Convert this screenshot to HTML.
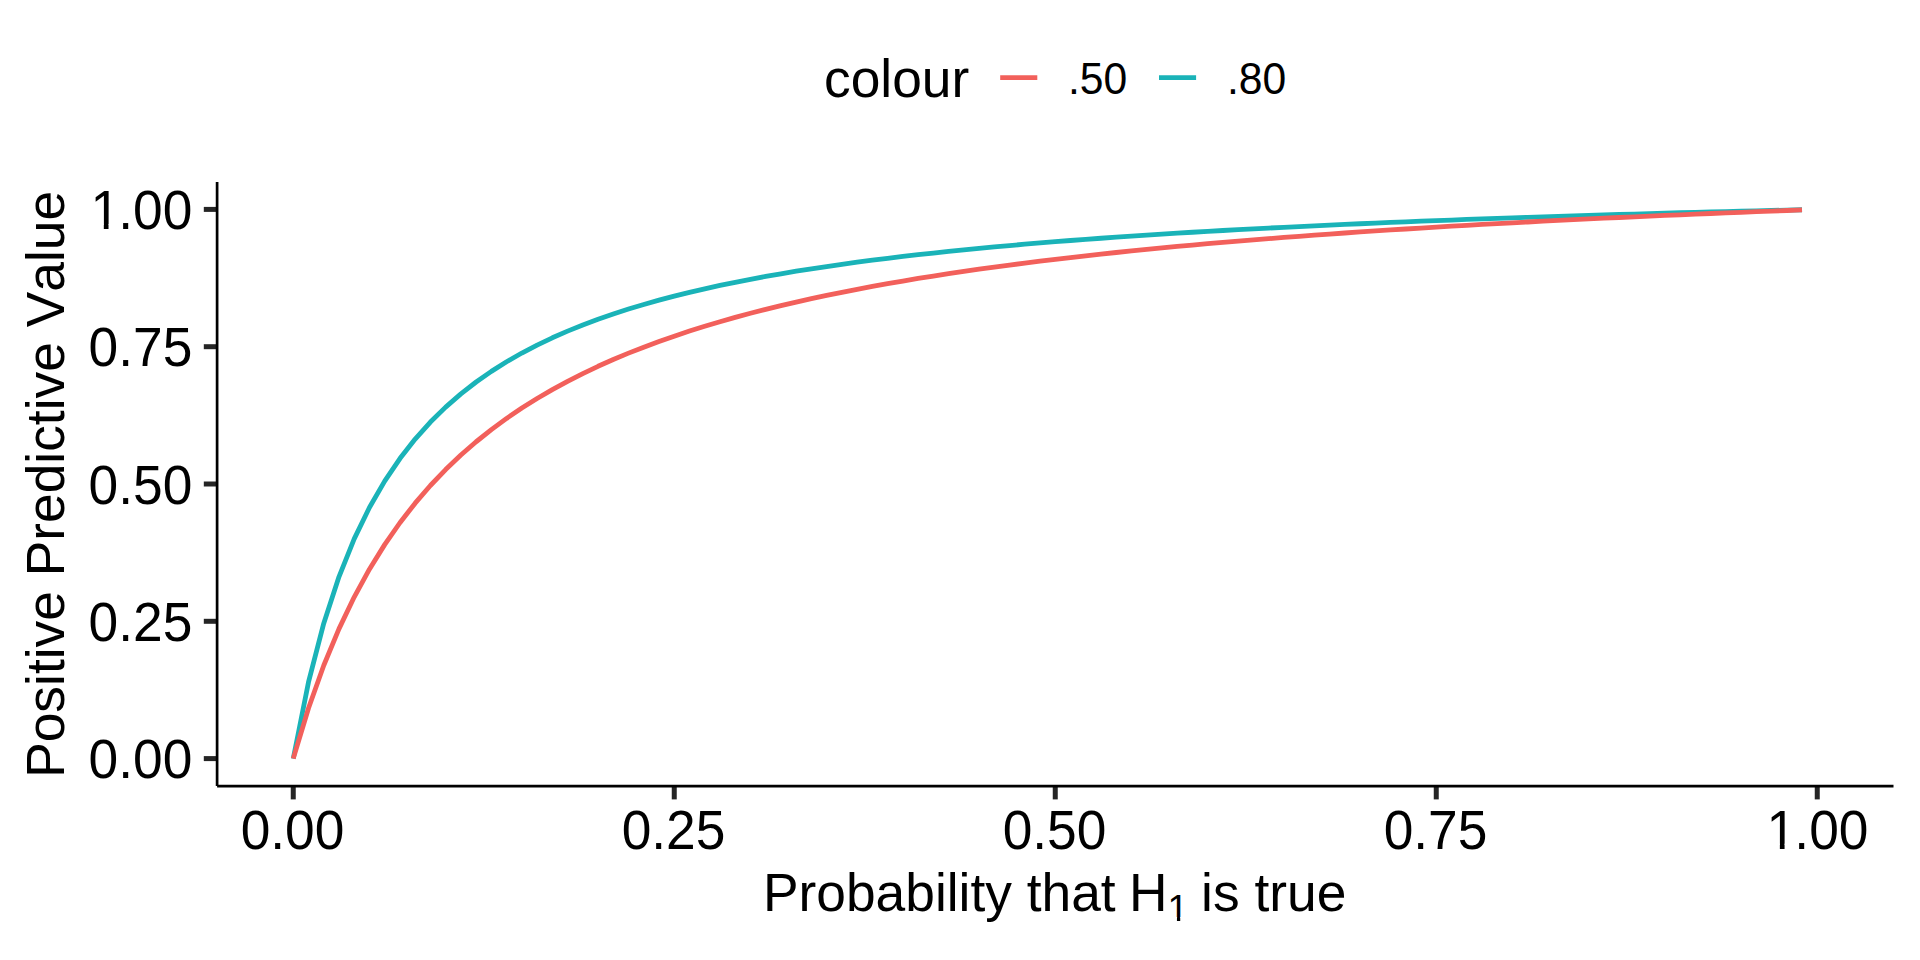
<!DOCTYPE html>
<html><head><meta charset="utf-8"><title>Positive Predictive Value</title>
<style>
html,body{margin:0;padding:0;background:#fff;}
body{width:1920px;height:960px;overflow:hidden;}
svg{display:block;}
text{font-family:"Liberation Sans",Arial,Helvetica,sans-serif;fill:#000;font-kerning:none;font-feature-settings:"kern" 0,"liga" 0;}
</style></head><body>
<svg width="1920" height="960" viewBox="0 0 1920 960">
<defs>
<clipPath id="c0" clipPathUnits="userSpaceOnUse"><path clip-rule="evenodd" d="M-3000,-3000H5000V5000H-3000Z M92.96,-4.88h10.85v7.88h-10.85Z M108.52,-4.88h10.43v7.88h-10.43Z"/></clipPath>
<clipPath id="c1" clipPathUnits="userSpaceOnUse"><path clip-rule="evenodd" d="M-3000,-3000H5000V5000H-3000Z M1769.01,-4.88h10.85v7.88h-10.85Z M1784.57,-4.88h10.43v7.88h-10.43Z"/></clipPath>
<clipPath id="c2" clipPathUnits="userSpaceOnUse"><path clip-rule="evenodd" d="M-3000,-3000H5000V5000H-3000Z M1168.90,6.11h8.04v6.69h-8.04Z M1180.24,6.11h7.75v6.69h-7.75Z"/></clipPath>
</defs>
<rect width="1920" height="960" fill="#fff"/>
<polyline points="293.25,758.60 308.49,682.19 323.73,623.41 338.97,576.80 354.21,538.92 369.45,507.54 384.69,481.11 399.93,458.55 415.17,439.07 430.41,422.07 445.65,407.11 460.89,393.85 476.13,382.01 491.37,371.37 506.61,361.76 521.85,353.04 537.09,345.08 552.33,337.80 567.57,331.11 582.81,324.95 598.05,319.24 613.29,313.95 628.53,309.02 643.77,304.43 659.01,300.14 674.25,296.12 689.49,292.34 704.73,288.79 719.97,285.44 735.21,282.28 750.45,279.30 765.69,276.47 780.93,273.79 796.17,271.24 811.41,268.82 826.65,266.52 841.89,264.32 857.13,262.22 872.37,260.22 887.61,258.31 902.85,256.47 918.09,254.72 933.33,253.04 948.57,251.42 963.81,249.87 979.05,248.38 994.29,246.94 1009.53,245.56 1024.77,244.23 1040.01,242.94 1055.25,241.71 1070.49,240.51 1085.73,239.36 1100.97,238.24 1116.21,237.16 1131.45,236.12 1146.69,235.11 1161.93,234.13 1177.17,233.18 1192.41,232.26 1207.65,231.37 1222.89,230.50 1238.13,229.66 1253.37,228.85 1268.61,228.05 1283.85,227.28 1299.09,226.53 1314.33,225.80 1329.57,225.09 1344.81,224.40 1360.05,223.73 1375.29,223.07 1390.53,222.43 1405.77,221.81 1421.01,221.20 1436.25,220.61 1451.49,220.03 1466.73,219.47 1481.97,218.91 1497.21,218.38 1512.45,217.85 1527.69,217.34 1542.93,216.83 1558.17,216.34 1573.41,215.86 1588.65,215.39 1603.89,214.93 1619.13,214.48 1634.37,214.04 1649.61,213.61 1664.85,213.19 1680.09,212.77 1695.33,212.37 1710.57,211.97 1725.81,211.58 1741.05,211.20 1756.29,210.83 1771.53,210.46 1786.77,210.10 1802.01,209.75" fill="none" stroke="#1AB3B8" stroke-width="4.8" stroke-linejoin="round" stroke-linecap="butt"/>
<polyline points="293.25,758.60 308.49,708.21 323.73,665.52 338.97,628.87 354.21,597.07 369.45,569.22 384.69,544.63 399.93,522.75 415.17,503.16 430.41,485.52 445.65,469.55 460.89,455.02 476.13,441.75 491.37,429.59 506.61,418.39 521.85,408.05 537.09,398.47 552.33,389.57 567.57,381.29 582.81,373.55 598.05,366.31 613.29,359.53 628.53,353.15 643.77,347.15 659.01,341.49 674.25,336.14 689.49,331.08 704.73,326.29 719.97,321.74 735.21,317.41 750.45,313.30 765.69,309.39 780.93,305.65 796.17,302.09 811.41,298.68 826.65,295.42 841.89,292.30 857.13,289.31 872.37,286.44 887.61,283.68 902.85,281.03 918.09,278.49 933.33,276.04 948.57,273.68 963.81,271.41 979.05,269.21 994.29,267.10 1009.53,265.06 1024.77,263.08 1040.01,261.17 1055.25,259.33 1070.49,257.54 1085.73,255.81 1100.97,254.14 1116.21,252.51 1131.45,250.94 1146.69,249.41 1161.93,247.92 1177.17,246.48 1192.41,245.08 1207.65,243.73 1222.89,242.40 1238.13,241.12 1253.37,239.87 1268.61,238.65 1283.85,237.46 1299.09,236.31 1314.33,235.18 1329.57,234.08 1344.81,233.01 1360.05,231.97 1375.29,230.95 1390.53,229.96 1405.77,228.99 1421.01,228.04 1436.25,227.12 1451.49,226.21 1466.73,225.33 1481.97,224.47 1497.21,223.62 1512.45,222.80 1527.69,221.99 1542.93,221.20 1558.17,220.42 1573.41,219.67 1588.65,218.92 1603.89,218.20 1619.13,217.49 1634.37,216.79 1649.61,216.10 1664.85,215.44 1680.09,214.78 1695.33,214.13 1710.57,213.50 1725.81,212.88 1741.05,212.28 1756.29,211.68 1771.53,211.09 1786.77,210.52 1802.01,209.95" fill="none" stroke="#F2605B" stroke-width="4.8" stroke-linejoin="round" stroke-linecap="butt"/>
<line x1="203.80" y1="758.60" x2="217.10" y2="758.60" stroke="#252525" stroke-width="5.0"/>
<line x1="293.25" y1="786.10" x2="293.25" y2="799.40" stroke="#252525" stroke-width="5.0"/>
<line x1="203.80" y1="621.30" x2="217.10" y2="621.30" stroke="#252525" stroke-width="5.0"/>
<line x1="674.25" y1="786.10" x2="674.25" y2="799.40" stroke="#252525" stroke-width="5.0"/>
<line x1="203.80" y1="484.00" x2="217.10" y2="484.00" stroke="#252525" stroke-width="5.0"/>
<line x1="1055.25" y1="786.10" x2="1055.25" y2="799.40" stroke="#252525" stroke-width="5.0"/>
<line x1="203.80" y1="346.70" x2="217.10" y2="346.70" stroke="#252525" stroke-width="5.0"/>
<line x1="1436.25" y1="786.10" x2="1436.25" y2="799.40" stroke="#252525" stroke-width="5.0"/>
<line x1="203.80" y1="209.40" x2="217.10" y2="209.40" stroke="#252525" stroke-width="5.0"/>
<line x1="1817.25" y1="786.10" x2="1817.25" y2="799.40" stroke="#252525" stroke-width="5.0"/>
<line x1="217.10" y1="181.94" x2="217.10" y2="786.10" stroke="#000" stroke-width="2.7"/>
<line x1="217.10" y1="786.10" x2="1893.50" y2="786.10" stroke="#000" stroke-width="2.7"/>
<text x="88.60" y="0" font-size="53.333" transform="translate(0,778.20) scale(1,1.035)">0.00</text>
<text x="240.65" y="0" font-size="53.333" transform="translate(0,848.80) scale(1,1.035)">0.00</text>
<text x="88.60" y="0" font-size="53.333" transform="translate(0,640.90) scale(1,1.035)">0.25</text>
<text x="621.65" y="0" font-size="53.333" transform="translate(0,848.80) scale(1,1.035)">0.25</text>
<text x="88.60" y="0" font-size="53.333" transform="translate(0,503.60) scale(1,1.035)">0.50</text>
<text x="1002.65" y="0" font-size="53.333" transform="translate(0,848.80) scale(1,1.035)">0.50</text>
<text x="88.60" y="0" font-size="53.333" transform="translate(0,366.30) scale(1,1.035)">0.75</text>
<text x="1383.65" y="0" font-size="53.333" transform="translate(0,848.80) scale(1,1.035)">0.75</text>
<text x="88.60" y="0" font-size="53.333" transform="translate(0,229.00) scale(1,1.035)" clip-path="url(#c0)"><tspan dx="1.80">1</tspan><tspan dx="-1.80">.00</tspan></text>
<text x="1764.65" y="0" font-size="53.333" transform="translate(0,848.80) scale(1,1.035)" clip-path="url(#c1)"><tspan dx="1.80">1</tspan><tspan dx="-1.80">.00</tspan></text>
<text x="0" y="0" font-size="53.333" text-anchor="middle" transform="translate(64.2,484.4) rotate(-90)">Positive Predictive Value</text>
<text x="762.93" y="0" font-size="53.333" transform="translate(0,910.9)" clip-path="url(#c2)">Probability that <tspan dx="-1.5">H</tspan><tspan font-size="37.333" dy="9.8" transform="">1</tspan><tspan dx="-2.0" dy="-9.8"> is true</tspan></text>
<text x="824.0" y="97.1" font-size="53.333">colour</text>
<line x1="1000.2" y1="77.7" x2="1037.3" y2="77.7" stroke="#F2605B" stroke-width="4.8"/>
<text x="1068.00" y="0" font-size="42.667" transform="translate(0,94.40) scale(1,1.02)">.50</text>
<line x1="1159.0" y1="77.7" x2="1196.1" y2="77.7" stroke="#1AB3B8" stroke-width="4.8"/>
<text x="1227.00" y="0" font-size="42.667" transform="translate(0,94.40) scale(1,1.02)">.80</text>
</svg>
</body></html>
